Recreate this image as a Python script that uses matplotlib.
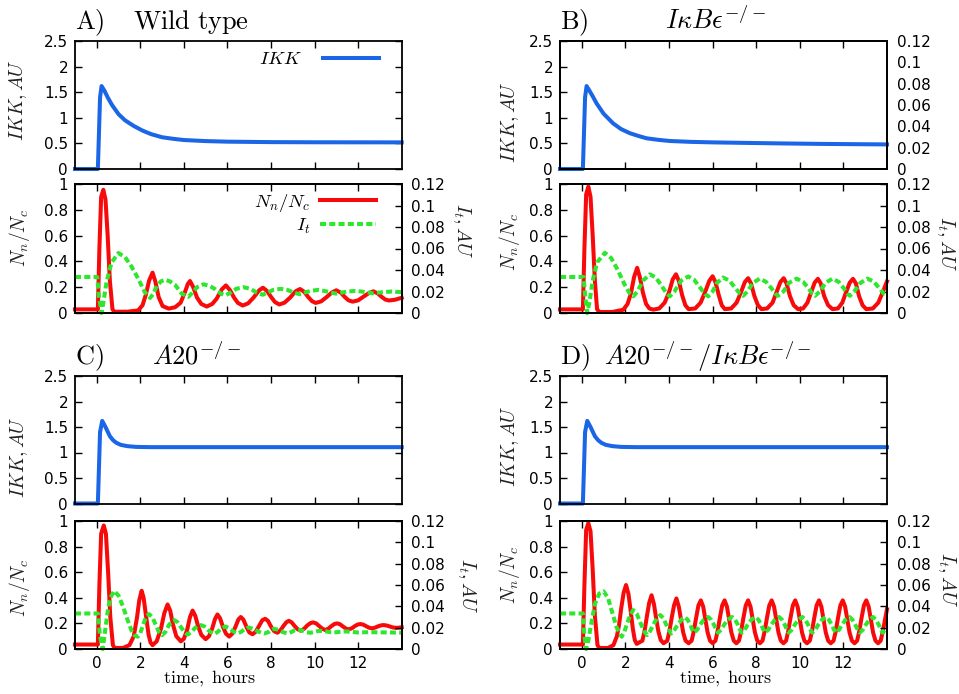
import matplotlib.pyplot as plt

plt.rcParams['mathtext.fontset'] = 'cm'
plt.rcParams['font.family'] = 'DejaVu Sans'
plt.rcParams['axes.linewidth'] = 1.3

# ---- data (time in hours) ----
x_ticks = [0, 2, 4, 6, 8, 10, 12]
ikk_ticks = [0, 0.5, 1, 1.5, 2, 2.5]
ikk_labels = ['0', '0.5', '1', '1.5', '2', '2.5']
nf_ticks = [0, 0.2, 0.4, 0.6, 0.8, 1]
nf_labels = ['0', '0.2', '0.4', '0.6', '0.8', '1']
it_ticks = [0, 0.02, 0.04, 0.06, 0.08, 0.1, 0.12]
it_labels = ['0', '0.02', '0.04', '0.06', '0.08', '0.1', '0.12']

# A) wild type
t_ikk_A = [-1, 0.05, 0.1, 0.15, 0.22, 0.35, 0.5, 0.7, 1.0, 1.3, 1.7, 2.1, 2.5, 3.0, 3.5, 4.0, 5.0, 6.0, 8.0, 10.0, 14.0]
ikk_A = [0, 0, 0.7, 1.4, 1.62, 1.53, 1.4, 1.25, 1.07, 0.95, 0.84, 0.75, 0.68, 0.62, 0.59, 0.566, 0.545, 0.534, 0.525, 0.522, 0.52]
t_nf_A = [-1, 0.05, 0.12, 0.2, 0.3, 0.4, 0.5, 0.6, 0.72, 0.8, 1.4, 1.9,
          2.1, 2.25, 2.4, 2.56, 2.68, 2.84, 3.02, 3.3,
          3.6, 3.85, 4.05, 4.18, 4.28, 4.43, 4.6, 4.8, 5.05,
          5.3, 5.5, 5.74, 5.93, 6.12, 6.3, 6.48, 6.7,
          6.95, 7.2, 7.45, 7.63, 7.82, 8.0, 8.18, 8.38,
          8.62, 8.88, 9.13, 9.33, 9.52, 9.7, 9.88, 10.05,
          10.3, 10.55, 10.8, 11.0, 11.2, 11.38, 11.56, 11.75,
          12.0, 12.25, 12.5, 12.7, 12.9, 13.08, 13.25, 13.42,
          13.7, 14.0]
nf_A = [0.028, 0.028, 0.5, 0.9, 0.955, 0.88, 0.6, 0.25, 0.03, 0.01, 0.01, 0.02,
        0.06, 0.14, 0.25, 0.313, 0.25, 0.124, 0.054, 0.034,
        0.045, 0.08, 0.163, 0.225, 0.248, 0.2, 0.12, 0.07, 0.05,
        0.07, 0.11, 0.183, 0.214, 0.176, 0.12, 0.078, 0.058,
        0.075, 0.12, 0.175, 0.196, 0.17, 0.125, 0.085, 0.066,
        0.08, 0.12, 0.168, 0.186, 0.165, 0.125, 0.092, 0.078,
        0.09, 0.123, 0.16, 0.176, 0.158, 0.125, 0.098, 0.088,
        0.098, 0.127, 0.155, 0.168, 0.152, 0.125, 0.104, 0.097,
        0.103, 0.118]
t_it_A = [-1, 0.02, 0.1, 0.22, 0.32, 0.45, 0.68, 0.99, 1.3, 1.6, 1.9, 2.2, 2.45,
          2.6, 2.75, 2.95, 3.13, 3.35, 3.6, 3.9, 4.2,
          4.4, 4.6, 4.9, 5.2, 5.45, 5.7, 5.9,
          6.15, 6.4, 6.73, 7.05, 7.35, 7.62,
          7.85, 8.1, 8.45, 8.75, 9.05, 9.3,
          9.55, 9.8, 10.15, 10.45, 10.75, 11.0,
          11.25, 11.5, 11.85, 12.15, 12.45, 12.68,
          12.95, 13.2, 13.55, 13.8, 14.0]
it_A = [0.0335, 0.0335, 0.015, 0.0, 0.012, 0.029, 0.047, 0.0558, 0.052, 0.043, 0.032, 0.0195, 0.014,
        0.018, 0.025, 0.0295, 0.031, 0.0295, 0.026, 0.018, 0.015,
        0.019, 0.024, 0.0267, 0.025, 0.022, 0.018, 0.0164,
        0.019, 0.0225, 0.024, 0.0225, 0.019, 0.017,
        0.019, 0.0215, 0.0225, 0.0215, 0.019, 0.0175,
        0.019, 0.0205, 0.0215, 0.0205, 0.019, 0.018,
        0.019, 0.02, 0.0205, 0.02, 0.019, 0.0183,
        0.019, 0.0195, 0.02, 0.0197, 0.0193]

# B) IkBe -/-
t_ikk_B = [-1, 0.05, 0.1, 0.15, 0.22, 0.35, 0.5, 0.68, 1.0, 1.44, 1.8, 2.2, 2.6, 2.97, 3.5, 4.04, 5.0, 6.0, 7.5, 9.1, 11.0, 14.0]
ikk_B = [0, 0, 0.7, 1.4, 1.62, 1.53, 1.42, 1.28, 1.08, 0.89, 0.78, 0.70, 0.645, 0.60, 0.57, 0.547, 0.53, 0.52, 0.51, 0.50, 0.49, 0.48]
t_nf_B = [-1, 0.05, 0.12, 0.2, 0.3, 0.4, 0.5, 0.6, 0.7, 0.8, 1.4, 1.9,
          2.1, 2.25, 2.4, 2.54, 2.66, 2.8, 2.95, 3.1, 3.28,
          3.55, 3.8, 4.0, 4.17, 4.32, 4.45, 4.6, 4.75, 4.9,
          5.2, 5.45, 5.65, 5.85, 6.0, 6.13, 6.28, 6.42, 6.56,
          6.85, 7.1, 7.3, 7.48, 7.63, 7.76, 7.92, 8.08, 8.24,
          8.5, 8.75, 8.93, 9.11, 9.26, 9.39, 9.55, 9.72, 9.92,
          10.15, 10.35, 10.52, 10.68, 10.83, 10.96, 11.12, 11.3, 11.5,
          11.75, 11.95, 12.12, 12.29, 12.44, 12.57, 12.72, 12.88, 13.05,
          13.35, 13.6, 13.8, 14.0]
nf_B = [0.028, 0.028, 0.5, 0.92, 0.98, 0.9, 0.6, 0.25, 0.03, 0.008, 0.008, 0.025,
        0.07, 0.15, 0.28, 0.35, 0.28, 0.16, 0.07, 0.035, 0.026,
        0.035, 0.08, 0.16, 0.26, 0.30, 0.25, 0.14, 0.06, 0.03,
        0.035, 0.08, 0.16, 0.25, 0.285, 0.24, 0.14, 0.06, 0.03,
        0.035, 0.08, 0.16, 0.24, 0.27, 0.23, 0.13, 0.06, 0.03,
        0.035, 0.08, 0.16, 0.24, 0.27, 0.23, 0.13, 0.06, 0.03,
        0.035, 0.08, 0.16, 0.235, 0.265, 0.23, 0.13, 0.06, 0.03,
        0.035, 0.08, 0.16, 0.235, 0.265, 0.23, 0.13, 0.06, 0.03,
        0.035, 0.08, 0.16, 0.245]
t_it_B = [-1, 0.08, 0.16, 0.25, 0.35, 0.5, 0.7, 1.06, 1.35, 1.65, 1.95, 2.2, 2.36,
          2.55, 2.8, 3.12, 3.4, 3.7, 3.9, 4.04,
          4.25, 4.55, 4.88, 5.15, 5.45, 5.65, 5.8,
          6.0, 6.2, 6.48, 6.78, 7.05, 7.25, 7.4,
          7.6, 7.85, 8.16, 8.45, 8.7, 8.88, 9.0,
          9.25, 9.5, 9.85, 10.15, 10.4, 10.57, 10.7,
          10.92, 11.18, 11.5, 11.78, 12.02, 12.18, 12.3,
          12.5, 12.78, 13.1, 13.4, 13.65, 13.85, 14.0]
it_B = [0.0335, 0.0335, 0.015, 0.0, 0.01, 0.03, 0.047, 0.056, 0.051, 0.04, 0.027, 0.018, 0.0155,
        0.02, 0.03, 0.036, 0.033, 0.024, 0.018, 0.0155,
        0.02, 0.03, 0.034, 0.031, 0.023, 0.0175, 0.0155,
        0.02, 0.028, 0.033, 0.03, 0.023, 0.018, 0.016,
        0.02, 0.028, 0.032, 0.029, 0.023, 0.018, 0.016,
        0.02, 0.028, 0.032, 0.029, 0.023, 0.018, 0.016,
        0.02, 0.028, 0.032, 0.029, 0.023, 0.018, 0.016,
        0.02, 0.028, 0.032, 0.029, 0.023, 0.018, 0.017]

# C) A20 -/-
t_ikk_C = [-1, 0.05, 0.1, 0.15, 0.25, 0.4, 0.6, 0.75, 0.9, 1.1, 1.4, 1.8, 2.5, 14.0]
ikk_C = [0, 0, 0.7, 1.4, 1.62, 1.5, 1.32, 1.24, 1.19, 1.15, 1.125, 1.11, 1.105, 1.105]
t_nf_C = [-1, 0.05, 0.12, 0.2, 0.32, 0.42, 0.52, 0.62, 0.74, 0.82, 1.2, 1.5,
          1.7, 1.85, 1.95, 2.06, 2.15, 2.26, 2.38, 2.47, 2.56,
          2.75, 2.95, 3.1, 3.25, 3.37, 3.5, 3.65, 3.86,
          4.0, 4.15, 4.28, 4.4, 4.52, 4.65, 4.8, 5.0,
          5.15, 5.3, 5.43, 5.54, 5.66, 5.8, 5.93, 6.08,
          6.22, 6.36, 6.5, 6.61, 6.73, 6.88, 7.0, 7.15,
          7.3, 7.45, 7.6, 7.73, 7.86, 8.0, 8.14, 8.29,
          8.43, 8.57, 8.71, 8.82, 8.95, 9.08, 9.22, 9.36,
          9.52, 9.67, 9.82, 9.94, 10.07, 10.22, 10.36, 10.5,
          10.64, 10.78, 10.92, 11.04, 11.17, 11.3, 11.44, 11.57,
          11.72, 11.86, 11.99, 12.11, 12.24, 12.38, 12.51, 12.64,
          12.79, 12.93, 13.06, 13.18, 13.32, 13.47, 13.6, 13.75,
          13.88, 14.0]
nf_C = [0.035, 0.035, 0.5, 0.9, 0.965, 0.9, 0.6, 0.25, 0.03, 0.008, 0.008, 0.03,
        0.1, 0.25, 0.38, 0.455, 0.4, 0.26, 0.11, 0.05, 0.03,
        0.06, 0.16, 0.28, 0.348, 0.3, 0.19, 0.1, 0.06,
        0.08, 0.15, 0.25, 0.30, 0.26, 0.18, 0.11, 0.077,
        0.1, 0.16, 0.235, 0.27, 0.24, 0.17, 0.12, 0.097,
        0.12, 0.17, 0.23, 0.25, 0.23, 0.17, 0.13, 0.115,
        0.135, 0.18, 0.225, 0.236, 0.22, 0.175, 0.14, 0.127,
        0.145, 0.18, 0.21, 0.22, 0.208, 0.18, 0.155, 0.143,
        0.158, 0.185, 0.203, 0.208, 0.2, 0.178, 0.158, 0.148,
        0.16, 0.18, 0.196, 0.2, 0.193, 0.176, 0.16, 0.153,
        0.163, 0.18, 0.192, 0.195, 0.19, 0.177, 0.166, 0.161,
        0.168, 0.178, 0.185, 0.187, 0.183, 0.175, 0.168, 0.165,
        0.167, 0.17]
t_it_C = [-1, 0.05, 0.15, 0.27, 0.37, 0.5, 0.62, 0.8, 1.0, 1.2, 1.4, 1.6, 1.75, 1.88,
          2.0, 2.15, 2.28, 2.4, 2.55, 2.7, 2.85, 3.0,
          3.15, 3.3, 3.45, 3.56, 3.72, 3.88, 4.03, 4.17,
          4.35, 4.5, 4.65, 4.78, 4.95, 5.1, 5.25, 5.39,
          5.55, 5.7, 5.83, 5.92, 6.08, 6.22, 6.35, 6.46,
          6.62, 6.78, 6.9, 7.0, 7.2, 7.4, 7.55, 7.7,
          7.88, 8.02, 8.14, 8.35, 8.55, 8.75,
          8.95, 9.1, 9.2, 9.4, 9.6, 9.8,
          10.0, 10.15, 10.3, 10.5, 10.7, 10.9,
          11.15, 11.4, 11.7, 12.0, 12.5, 13.0, 13.5, 14.0]
it_C = [0.0333, 0.0333, 0.012, 0.0, 0.015, 0.035, 0.048, 0.0545, 0.05, 0.04, 0.028, 0.017, 0.0125, 0.0115,
        0.015, 0.024, 0.031, 0.0327, 0.03, 0.023, 0.016, 0.013,
        0.016, 0.022, 0.026, 0.027, 0.025, 0.02, 0.016, 0.0135,
        0.016, 0.0195, 0.022, 0.0224, 0.021, 0.018, 0.0155, 0.014,
        0.016, 0.019, 0.0205, 0.021, 0.0195, 0.0172, 0.0155, 0.0146,
        0.016, 0.0185, 0.0198, 0.02, 0.0188, 0.0165, 0.0152, 0.0146,
        0.0158, 0.018, 0.019, 0.0178, 0.0158, 0.0146,
        0.016, 0.0178, 0.0183, 0.0175, 0.0158, 0.0152,
        0.016, 0.0168, 0.017, 0.0166, 0.0158, 0.0155,
        0.016, 0.0165, 0.016, 0.0155, 0.0158, 0.0156, 0.0155, 0.0153]

# D) A20 -/- / IkBe -/-
t_ikk_D = [-1, 0.05, 0.1, 0.15, 0.25, 0.4, 0.6, 0.75, 0.9, 1.1, 1.4, 1.8, 2.5, 14.0]
ikk_D = [0, 0, 0.7, 1.4, 1.62, 1.5, 1.32, 1.24, 1.19, 1.15, 1.125, 1.11, 1.105, 1.105]
t_nf_D = [-1, 0.05, 0.12, 0.2, 0.3, 0.4, 0.5, 0.6, 0.72, 0.8, 1.2, 1.45,
          1.61, 1.71, 1.81, 1.92, 2.03, 2.14, 2.24, 2.34, 2.43, 2.52,
          2.78, 2.88, 2.98, 3.09, 3.2, 3.31, 3.41, 3.51, 3.62, 3.75,
          3.92, 4.02, 4.12, 4.23, 4.34, 4.45, 4.55, 4.65, 4.76, 4.9,
          5.04, 5.14, 5.24, 5.35, 5.46, 5.57, 5.67, 5.77, 5.88, 6.0,
          6.13, 6.23, 6.33, 6.44, 6.55, 6.66, 6.76, 6.86, 6.97, 7.09,
          7.21, 7.31, 7.41, 7.52, 7.63, 7.74, 7.84, 7.94, 8.05, 8.17,
          8.29, 8.39, 8.49, 8.6, 8.71, 8.82, 8.92, 9.02, 9.13, 9.25,
          9.37, 9.47, 9.57, 9.68, 9.79, 9.9, 10.0, 10.1, 10.21, 10.33,
          10.46, 10.56, 10.66, 10.77, 10.88, 10.99, 11.09, 11.19, 11.3, 11.42,
          11.55, 11.65, 11.75, 11.86, 11.97, 12.08, 12.18, 12.28, 12.39, 12.51,
          12.63, 12.73, 12.83, 12.94, 13.05, 13.16, 13.26, 13.36, 13.47, 13.59,
          13.71, 13.81, 13.91, 14.0]
nf_D = [0.035, 0.035, 0.5, 0.93, 0.984, 0.92, 0.62, 0.26, 0.03, 0.008, 0.008, 0.03,
        0.1, 0.19, 0.32, 0.44, 0.5, 0.43, 0.3, 0.16, 0.07, 0.04,
        0.065, 0.14, 0.25, 0.36, 0.42, 0.35, 0.24, 0.14, 0.07, 0.045,
        0.065, 0.14, 0.24, 0.34, 0.395, 0.33, 0.23, 0.13, 0.065, 0.045,
        0.065, 0.14, 0.24, 0.34, 0.38, 0.33, 0.23, 0.13, 0.065, 0.045,
        0.065, 0.14, 0.24, 0.34, 0.38, 0.33, 0.23, 0.13, 0.065, 0.045,
        0.065, 0.14, 0.24, 0.34, 0.38, 0.33, 0.23, 0.13, 0.065, 0.045,
        0.065, 0.14, 0.24, 0.34, 0.38, 0.33, 0.23, 0.13, 0.065, 0.045,
        0.065, 0.14, 0.24, 0.34, 0.38, 0.33, 0.23, 0.13, 0.065, 0.045,
        0.065, 0.14, 0.24, 0.34, 0.38, 0.33, 0.23, 0.13, 0.065, 0.045,
        0.065, 0.14, 0.24, 0.34, 0.38, 0.33, 0.23, 0.13, 0.065, 0.045,
        0.065, 0.14, 0.24, 0.34, 0.38, 0.33, 0.23, 0.13, 0.065, 0.045,
        0.065, 0.14, 0.23, 0.31]
t_it_D = [-1, 0.05, 0.12, 0.2, 0.3, 0.4, 0.6, 0.8, 1.0, 1.2, 1.4, 1.6, 1.83,
          1.95, 2.08, 2.22, 2.36, 2.52, 2.68, 2.85, 3.0,
          3.14, 3.3, 3.45, 3.6, 3.74, 3.87, 3.99, 4.1,
          4.25, 4.41, 4.57, 4.72, 4.85, 4.98, 5.07, 5.15,
          5.29, 5.43, 5.6, 5.8, 5.93, 6.06, 6.17, 6.25,
          6.39, 6.53, 6.7, 6.9, 7.03, 7.16, 7.26, 7.33,
          7.47, 7.61, 7.78, 7.97, 8.1, 8.23, 8.33, 8.41,
          8.55, 8.69, 8.86, 9.05, 9.18, 9.31, 9.41, 9.49,
          9.63, 9.77, 9.94, 10.12, 10.25, 10.38, 10.49, 10.57,
          10.71, 10.85, 11.02, 11.2, 11.33, 11.46, 11.57, 11.66,
          11.8, 11.94, 12.1, 12.28, 12.41, 12.54, 12.66, 12.75,
          12.89, 13.03, 13.19, 13.36, 13.49, 13.62, 13.72, 13.8,
          13.92, 14.0]
it_D = [0.0333, 0.0333, 0.012, 0.0, 0.008, 0.02, 0.042, 0.052, 0.054, 0.048, 0.034, 0.02, 0.0115,
        0.016, 0.024, 0.032, 0.0365, 0.033, 0.025, 0.017, 0.013,
        0.017, 0.0235, 0.029, 0.0318, 0.029, 0.023, 0.018, 0.0145,
        0.018, 0.023, 0.0275, 0.030, 0.0275, 0.0228, 0.018, 0.0153,
        0.018, 0.0228, 0.0275, 0.030, 0.0275, 0.0228, 0.018, 0.0153,
        0.018, 0.0228, 0.0275, 0.030, 0.0275, 0.0228, 0.018, 0.0153,
        0.018, 0.0228, 0.0275, 0.030, 0.0275, 0.0228, 0.018, 0.0153,
        0.018, 0.0228, 0.0275, 0.030, 0.0275, 0.0228, 0.018, 0.0153,
        0.018, 0.0228, 0.0275, 0.030, 0.0275, 0.0228, 0.018, 0.0153,
        0.018, 0.0228, 0.0275, 0.030, 0.0275, 0.0228, 0.018, 0.0153,
        0.018, 0.0228, 0.0275, 0.030, 0.0275, 0.0228, 0.018, 0.0153,
        0.018, 0.0228, 0.0275, 0.030, 0.0275, 0.0228, 0.018, 0.0153,
        0.018, 0.0195]

blue = '#1a66e6'
red = '#f80a0a'
green = '#2ee62e'
LW = 2.9

fig = plt.figure(figsize=(9.59, 6.94), dpi=100)


def box(l, t, r, b):
    return [l / 959, 1 - b / 694, (r - l) / 959, (b - t) / 694]


def style(ax, yt, yl):
    ax.set_xlim(-1, 14)
    ax.set_xticks(x_ticks)
    ax.set_xticklabels([])
    ax.set_yticks(yt)
    ax.set_yticklabels(yl)
    ax.tick_params(direction='in', length=5, width=1, top=True, right=True, labelsize=11, pad=5)


def panel(l, r, top, bot, letter, name, name_x, d, lab, show_x=False, legend=False, ghost=False):
    t_ikk, ikk, t_nf, nf, t_it, it = d
    ax1 = fig.add_axes(box(l, top[0], r, top[1]))
    ax1.plot(t_ikk, ikk, color=blue, lw=LW, clip_on=False, label='$IKK$')
    ax1.set_ylim(0, 2.5)
    style(ax1, ikk_ticks, ikk_labels)
    ax1.text(0.0, 1.09, letter, transform=ax1.transAxes, fontsize=19, va='baseline', ha='left')
    ax1.text(name_x, 1.09, name, transform=ax1.transAxes, fontsize=19, va='baseline', ha='left')
    ax1.text(lab[0], lab[1], '$IKK, AU$', transform=ax1.transAxes, rotation=90,
             ha='center', va='center', fontsize=14, color='#222222')
    if ghost:
        g = ax1.twinx()
        g.set_ylim(0, 0.12)
        g.set_yticks(it_ticks)
        g.set_yticklabels(it_labels)
        g.tick_params(length=0, labelsize=11, pad=7)
    if legend:
        ax1.legend(loc='center right', bbox_to_anchor=(0.93, 0.86), frameon=False, markerfirst=False,
                   handlelength=3.0, handletextpad=1.1, borderpad=0, borderaxespad=0, fontsize=13.5)

    ax2 = fig.add_axes(box(l, bot[0], r, bot[1]))
    ln1, = ax2.plot(t_nf, nf, color=red, lw=LW, clip_on=False, label='$N_n/N_c$')
    ax2.set_ylim(0, 1)
    style(ax2, nf_ticks, nf_labels)
    ax2.tick_params(right=False)
    ax3 = ax2.twinx()
    ln2, = ax3.plot(t_it, it, color=green, lw=LW, dashes=(1.5, 0.8), clip_on=False, label='$I_t$')
    ax3.set_ylim(0, 0.12)
    ax3.set_yticks(it_ticks)
    ax3.set_yticklabels(it_labels)
    ax3.tick_params(direction='in', length=5, width=1, labelsize=11, pad=7)
    ax2.text(lab[2], lab[3], '$N_n/N_c$', transform=ax2.transAxes, rotation=90,
             ha='center', va='center', fontsize=14, color='#222222')
    ax2.text(lab[4], lab[5], '$I_t, AU$', transform=ax2.transAxes, rotation=270,
             ha='center', va='center', fontsize=14, color='#222222')
    if show_x:
        ax2.set_xticklabels([str(v) for v in x_ticks])
        ax2.text(lab[6], -0.27, r'$\mathrm{time,\ hours}$', transform=ax2.transAxes,
                 ha='center', va='baseline', fontsize=13)
    if legend:
        ax3.legend([ln1, ln2], ['$N_n/N_c$', '$I_t$'], loc='center right', bbox_to_anchor=(0.921, 0.77),
                   frameon=False, markerfirst=False, handlelength=3.0, handletextpad=0.5,
                   borderpad=0, borderaxespad=0, labelspacing=0.1, fontsize=13.5)


panel(75, 401.7, (41, 169), (184, 313), r'$\mathrm{A)}$', r'$\mathrm{Wild\ type}$', 0.178,
      (t_ikk_A, ikk_A, t_nf_A, nf_A, t_it_A, it_A), (-0.174, 0.54, -0.17, 0.585, 1.185, 0.64), legend=True)
panel(560, 887, (41, 169), (184, 313), r'$\mathrm{B)}$', r'$I\kappa B\epsilon^{-/-}$', 0.321,
      (t_ikk_B, ikk_B, t_nf_B, nf_B, t_it_B, it_B), (-0.153, 0.37, -0.153, 0.554, 1.18, 0.54), ghost=True)
panel(75, 401.7, (376, 503.5), (521, 649), r'$\mathrm{C)}$', r'$A20^{-/-}$', 0.236,
      (t_ikk_C, ikk_C, t_nf_C, nf_C, t_it_C, it_C), (-0.17, 0.365, -0.17, 0.477, 1.2, 0.5, 0.413), show_x=True)
panel(560, 887, (376, 503.5), (521, 649), r'$\mathrm{D)}$', r'$A20^{-/-}/I\kappa B\epsilon^{-/-}$', 0.135,
      (t_ikk_D, ikk_D, t_nf_D, nf_D, t_it_D, it_D), (-0.153, 0.45, -0.153, 0.578, 1.183, 0.547, 0.505), show_x=True)

fig.savefig('out.png', dpi=100)
